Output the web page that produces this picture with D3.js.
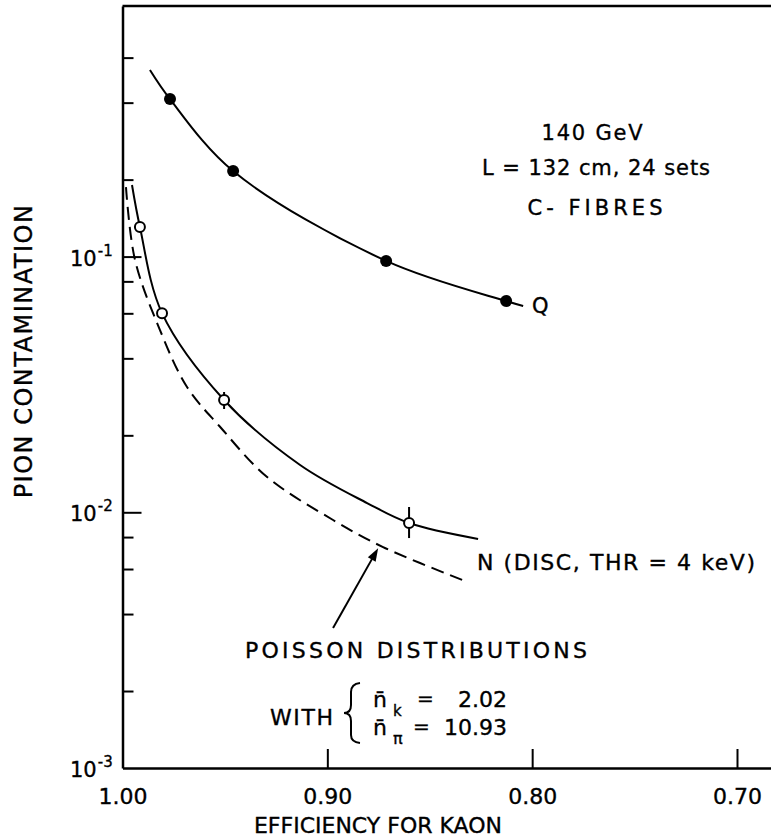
<!DOCTYPE html>
<html>
<head>
<meta charset="utf-8">
<script src="https://cdn.jsdelivr.net/npm/d3@7"></script>
<style>
  body { margin: 0; background: #fff; overflow: hidden; }
  svg { display: block; overflow: hidden; }
  text { font-family: "DejaVu Sans", sans-serif; fill: #000; stroke: #000; stroke-width: 0.35px; }
</style>
</head>
<body>
<svg id="chart" width="771" height="839"></svg>
<script>

// tick values
var effTicks = [1.00, 0.90, 0.80, 0.70];
var yMajor = [1e-3, 1e-2, 1e-1];
var yMinor = [2e-3, 4e-3, 6e-3, 8e-3, 2e-2, 4e-2, 6e-2, 8e-2, 2e-1, 4e-1, 6e-1];

// Q : filled points + drawn curve
var qEff = [0.9768, 0.946, 0.8713, 0.8127];
var qVal = [0.413, 0.216, 0.0962, 0.0670];
var qLineEff = [0.9866, 0.9768, 0.946, 0.8713, 0.8127, 0.8044];
var qLineVal = [0.537, 0.413, 0.216, 0.0962, 0.0670, 0.0641];

// N : open points + curve
var nEff = [0.9915, 0.9807, 0.9504, 0.8601];
var nVal = [0.1306, 0.0601, 0.0275, 0.00908];
var nErrLo = [null, null, 0.02535, 0.00793];
var nErrHi = [null, null, 0.02955, 0.01049];
var nLineEff = [0.99536, 0.9915, 0.9807, 0.9504, 0.9133, 0.8806, 0.8601, 0.8264];
var nLineVal = [0.1905, 0.1306, 0.0601, 0.0275, 0.01531, 0.01087, 0.00908, 0.00787];

// Poisson (dashed)
var pEff = [0.9983, 0.9939, 0.9817, 0.9685, 0.9524, 0.9294, 0.8972, 0.8728, 0.8313];
var pVal = [0.187, 0.0971, 0.0516, 0.0309, 0.0216, 0.01374, 0.00933, 0.00731, 0.00533];

// arrow (tail -> tip) in data units
var arrowEff = [0.8972, 0.8752];
var arrowVal = [0.00353, 0.00724];

var svg = d3.select('#chart')

var x = d3.scaleLinear().domain([1.0, 0.6834]).range([122.5, 771])
var y = d3.scaleLog().domain([1e-3, 0.955]).range([768, 6])

// frame top line
svg.append('line')
  .attr('x1', x(1.0)).attr('x2', x(0.6834))
  .attr('y1', y(0.955)).attr('y2', y(0.955))
  .attr('stroke', '#000').attr('stroke-width', 2.5)

// left axis, ticks point inward
svg.append('g').attr('transform', 'translate(' + x(1.0) + ',0)')
  .call(d3.axisLeft(y).tickValues(yMinor).tickSize(-11).tickSizeOuter(0).tickFormat(''))
  .call(g => g.selectAll('line').attr('stroke-width', 2))
  .call(g => g.select('.domain').attr('stroke-width', 2.5))

svg.append('g').attr('transform', 'translate(' + x(1.0) + ',0)')
  .call(d3.axisLeft(y).tickValues(yMajor.slice(1)).tickSize(-19).tickSizeOuter(0).tickFormat(''))
  .call(g => g.selectAll('line').attr('stroke-width', 2))
  .call(g => g.select('.domain').remove())

// y labels 10^n
yMajor.forEach(function(v) {
  var t = svg.append('text')
    .attr('x', 70).attr('y', y(v) + 9)
    .attr('font-size', 21)
  t.append('tspan').text('10')
  t.append('tspan').attr('dy', -10).attr('dx', 1).attr('font-size', 15)
    .text('-' + Math.round(-Math.log10(v)))
})

// bottom axis
svg.append('g').attr('transform', 'translate(0,' + y(1e-3) + ')')
  .call(d3.axisBottom(x).tickValues(effTicks).tickSize(-19).tickSizeOuter(0)
    .tickPadding(20).tickFormat(d3.format('.2f')))
  .call(g => g.selectAll('line').attr('stroke-width', 2))
  .call(g => g.select('.domain').attr('stroke-width', 2.5))
  .call(g => g.selectAll('text').attr('font-size', 22).attr('fill', '#000')
    .attr('font-family', '"DejaVu Sans", sans-serif'))
  .call(g => g.selectAll('.tick').filter(d => d === 1.0).select('line').remove())

// axis titles
svg.append('text')
  .attr('x', 378).attr('y', 833)
  .attr('text-anchor', 'middle').attr('font-size', 22)
  .text('EFFICIENCY FOR KAON')

svg.append('text')
  .attr('transform', 'translate(32,351) rotate(-90)')
  .attr('text-anchor', 'middle').attr('font-size', 24)
  .attr('letter-spacing', 1.5)
  .text('PION CONTAMINATION')

var line = d3.line().x(d => x(d[0])).y(d => y(d[1])).curve(d3.curveCatmullRom.alpha(0.5))

// curves
svg.append('path').datum(d3.zip(pEff, pVal))
  .attr('d', line).attr('fill', 'none').attr('stroke', '#000')
  .attr('stroke-width', 2).attr('stroke-dasharray', '13,7')

svg.append('path').datum(d3.zip(nLineEff, nLineVal))
  .attr('d', line).attr('fill', 'none').attr('stroke', '#000').attr('stroke-width', 2)

svg.append('path').datum(d3.zip(qLineEff, qLineVal))
  .attr('d', line).attr('fill', 'none').attr('stroke', '#000').attr('stroke-width', 2)

// error bars on N
var nData = nEff.map((e, i) => ({e: e, v: nVal[i], lo: nErrLo[i], hi: nErrHi[i]}))
svg.selectAll('.err').data(nData.filter(d => d.lo)).enter()
  .append('line').attr('class', 'err')
  .attr('x1', d => x(d.e)).attr('x2', d => x(d.e))
  .attr('y1', d => y(d.lo)).attr('y2', d => y(d.hi))
  .attr('stroke', '#000').attr('stroke-width', 2)

// N open points
svg.selectAll('.npt').data(nData).enter()
  .append('circle').attr('class', 'npt')
  .attr('cx', d => x(d.e)).attr('cy', d => y(d.v)).attr('r', 5)
  .attr('fill', '#fff').attr('stroke', '#000').attr('stroke-width', 2)

// Q filled points
svg.selectAll('.qpt').data(d3.zip(qEff, qVal)).enter()
  .append('circle').attr('class', 'qpt')
  .attr('cx', d => x(d[0])).attr('cy', d => y(d[1])).attr('r', 6)
  .attr('fill', '#000')

// arrow to dashed curve
var ax0 = x(arrowEff[0]), ay0 = y(arrowVal[0]), ax1 = x(arrowEff[1]), ay1 = y(arrowVal[1])
var ang = Math.atan2(ay1 - ay0, ax1 - ax0)
svg.append('line')
  .attr('x1', ax0).attr('y1', ay0)
  .attr('x2', ax1 - 8 * Math.cos(ang)).attr('y2', ay1 - 8 * Math.sin(ang))
  .attr('stroke', '#000').attr('stroke-width', 2)
var hl = 13, hw = 4.5
svg.append('path')
  .attr('d', 'M' + ax1 + ',' + ay1 +
    'L' + (ax1 - hl * Math.cos(ang) + hw * Math.sin(ang)) + ',' + (ay1 - hl * Math.sin(ang) - hw * Math.cos(ang)) +
    'L' + (ax1 - hl * Math.cos(ang) - hw * Math.sin(ang)) + ',' + (ay1 - hl * Math.sin(ang) + hw * Math.cos(ang)) + 'Z')
  .attr('fill', '#000')

// annotations
function note(txt, px, py, size, anchor, len) {
  var t = svg.append('text').attr('x', px).attr('y', py)
    .attr('font-size', size).attr('text-anchor', anchor || 'start').text(txt)
  if (len) t.attr('textLength', len).attr('lengthAdjust', 'spacing')
  return t
}

note('140  GeV', 592, 140, 21, 'middle', 101)
note('L = 132 cm, 24 sets', 596, 175, 21, 'middle', 228)
note('C- FIBRES', 595, 215, 21, 'middle', 135)
note('Q', 532, 313, 21)
note('N (DISC, THR = 4  keV)', 477, 570, 22, 'start', 278)
note('POISSON  DISTRIBUTIONS', 245, 658, 22, 'start', 342)
note('WITH', 270, 725, 22, 'start', 63)

// brace
svg.append('path')
  .attr('d', 'M360,683 Q351,684 351,692 L351,705 Q351,713 344,713 Q351,713 351,721 L351,735 Q351,742 360,743')
  .attr('fill', 'none').attr('stroke', '#000').attr('stroke-width', 2)

note('n\u0304', 373, 707, 22)
note('k', 393, 716, 15)
note('=', 417, 705, 20)
note('2.02', 507, 707, 22, 'end')
note('n\u0304', 373, 735, 22)
note('\u03c0', 393, 744, 16)
note('=', 413, 733, 20)
note('10.93', 507, 735, 22, 'end')

</script>
</body>
</html>
